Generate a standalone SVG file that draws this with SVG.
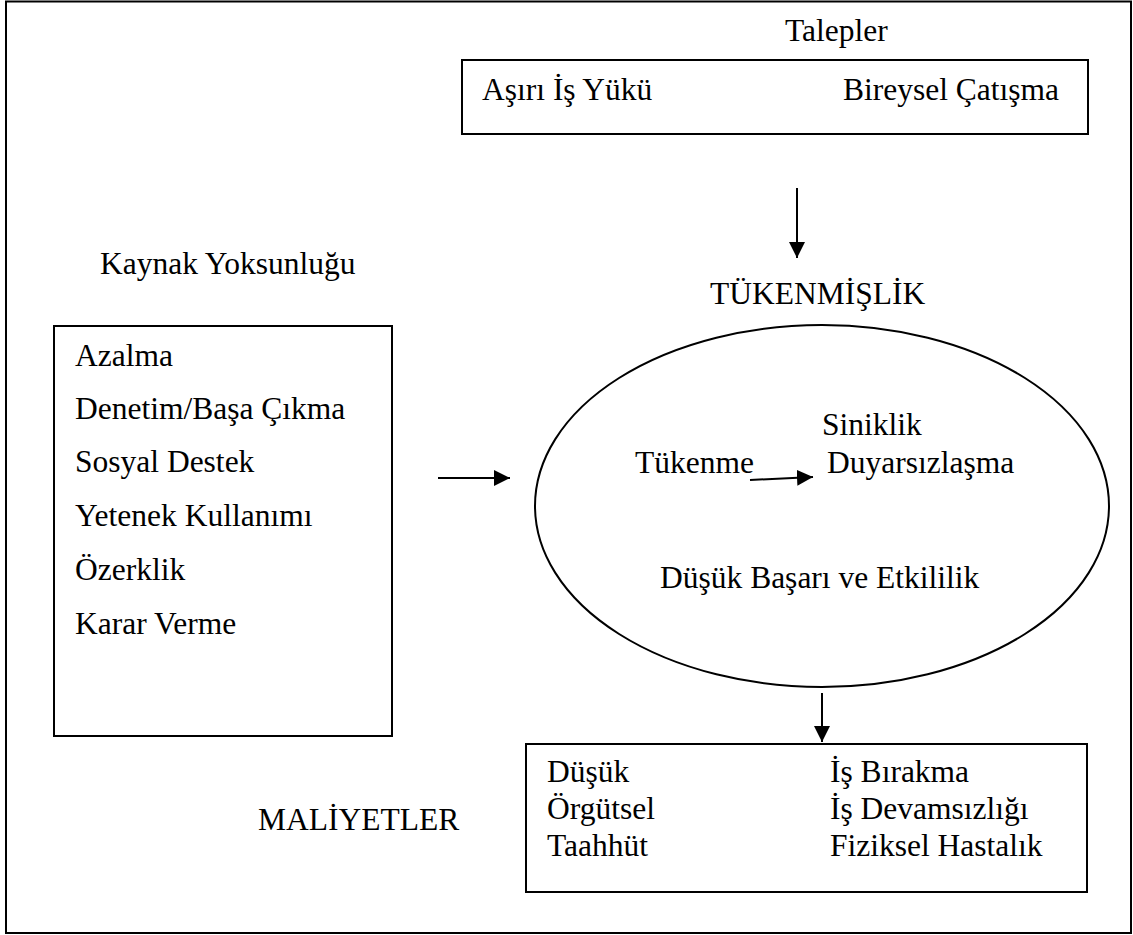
<svg xmlns="http://www.w3.org/2000/svg" width="1133" height="935" viewBox="0 0 1133 935">
<style>
text{font-family:"Liberation Serif","Times New Roman",serif;font-size:31.5px;fill:#000}
.box{fill:none;stroke:#000;stroke-width:2}
.ln{stroke:#000;stroke-width:2;fill:none}
</style>
<defs>
<marker id="ah" viewBox="0 0 16 16" refX="16" refY="8" markerWidth="16" markerHeight="16" markerUnits="userSpaceOnUse" orient="auto">
<path d="M0,0 L16,8 L0,16 Z" fill="#000"/>
</marker>
</defs>
<rect width="1133" height="935" fill="#fff"/>
<g id="frame"><rect x="6" y="1.5" width="1125" height="931.5" class="box"/></g>
<g id="talepler">
<text x="785" y="41">Talepler</text>
<rect x="462" y="60" width="626" height="74" class="box"/>
<text x="482" y="100">Aşırı İş Yükü</text>
<text x="843" y="100">Bireysel Çatışma</text>
</g>
<g id="kaynak">
<text x="100" y="274">Kaynak Yoksunluğu</text>
<rect x="54" y="326" width="338" height="410" class="box"/>
<text x="75" y="366">Azalma</text>
<text x="75" y="419">Denetim/Başa Çıkma</text>
<text x="75" y="472">Sosyal Destek</text>
<text x="75" y="526">Yetenek Kullanımı</text>
<text x="75" y="580">Özerklik</text>
<text x="75" y="634">Karar Verme</text>
</g>
<g id="tukenmislik">
<text x="710" y="304">TÜKENMİŞLİK</text>
<ellipse cx="822" cy="506" rx="287" ry="181" class="box"/>
<text x="635" y="473">Tükenme</text>
<text x="822" y="435">Siniklik</text>
<text x="827" y="473">Duyarsızlaşma</text>
<text x="660" y="588">Düşük Başarı ve Etkililik</text>
</g>
<g id="maliyetler">
<text x="258" y="830">MALİYETLER</text>
<rect x="526" y="744" width="561" height="148" class="box"/>
<text x="547" y="782">Düşük</text>
<text x="547" y="819">Örgütsel</text>
<text x="547" y="856">Taahhüt</text>
<text x="830" y="782">İş Bırakma</text>
<text x="830" y="819">İş Devamsızlığı</text>
<text x="830" y="856">Fiziksel Hastalık</text>
</g>
<g id="connectors">
<line x1="797" y1="188" x2="797" y2="258" class="ln" marker-end="url(#ah)"/>
<line x1="438" y1="478" x2="510" y2="478" class="ln" marker-end="url(#ah)"/>
<line x1="750" y1="480" x2="813" y2="477" class="ln" marker-end="url(#ah)"/>
<line x1="822" y1="693" x2="822" y2="742" class="ln" marker-end="url(#ah)"/>
</g>
</svg>
